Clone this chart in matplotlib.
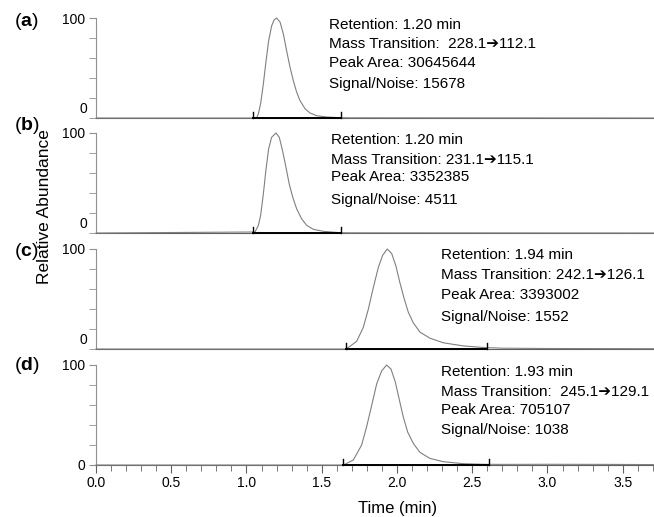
import matplotlib
matplotlib.use("Agg")
import matplotlib.pyplot as plt
from matplotlib.ticker import MultipleLocator

plt.rcParams['font.family'] = ['Liberation Sans', 'DejaVu Sans']
plt.rcParams['mathtext.fontset'] = 'custom'
plt.rcParams['mathtext.rm'] = 'Liberation Sans'
plt.rcParams['mathtext.bf'] = 'Liberation Sans:bold'

# chromatogram traces (time in min, relative abundance %)
time_a = [0.0, 1.0675, 1.079, 1.094, 1.112, 1.130, 1.147, 1.167, 1.183, 1.200, 1.223, 1.245,
          1.267, 1.289, 1.311, 1.333, 1.355, 1.389, 1.422, 1.466, 1.533, 1.621, 1.70, 3.71]
abund_a = [0, 0, 4.3, 14.3, 34, 57, 77, 92, 98, 100, 96, 84,
           67, 51, 37.5, 26, 17.6, 9.3, 5, 2.3, 1, 0.3, 0.2, 0]

time_b = [0.0, 1.0565, 1.079, 1.094, 1.112, 1.130, 1.147, 1.167, 1.196, 1.218, 1.240, 1.262,
          1.284, 1.307, 1.333, 1.366, 1.400, 1.444, 1.510, 1.621, 1.70, 3.71]
abund_b = [0, 1.0, 7.6, 17.6, 39, 64, 84, 95.7, 100, 95.7, 82, 66,
           49, 36, 24.3, 14.3, 7.6, 3.7, 1.7, 0.3, 0.2, 0]

time_c = [0.0, 1.659, 1.677, 1.732, 1.776, 1.810, 1.843, 1.876, 1.905, 1.936, 1.965, 1.993,
          2.020, 2.047, 2.075, 2.109, 2.153, 2.219, 2.308, 2.441, 2.574, 2.70, 3.0, 3.71]
abund_c = [0, 0, 1.5, 7.7, 21.5, 40, 61.5, 81.5, 93.8, 100, 95.4, 83,
           66, 50.8, 36.9, 26, 16.9, 10.8, 6.2, 3.1, 1.5, 0.8, 0.5, 0.3]

time_d = [0.0, 1.639, 1.654, 1.710, 1.765, 1.798, 1.832, 1.865, 1.898, 1.931, 1.960, 1.989,
          2.016, 2.042, 2.071, 2.109, 2.153, 2.219, 2.308, 2.441, 2.574, 2.70, 3.0, 3.4, 3.71]
abund_d = [0, 0, 0.7, 5, 19.9, 38, 59.6, 81, 94, 100, 96, 83,
           65, 48, 33, 21.5, 12.6, 6.6, 3.3, 1.3, 0.7, 0.6, 0.7, 0.6, 0.4]

# integration window (start, end) in min
peak_start = [1.04, 1.04, 1.66, 1.64]
peak_end = [1.63, 1.63, 2.60, 2.61]

panel_ids = ['a', 'b', 'c', 'd']
retention = ['1.20', '1.20', '1.94', '1.93']
transition = [' 228.1\u2794112.1', '231.1\u2794115.1', '242.1\u2794126.1', ' 245.1\u2794129.1']
peak_area = ['30645644', '3352385', '3393002', '705107']
sig_noise = ['15678', '4511', '1552', '1038']

times = [time_a, time_b, time_c, time_d]
abunds = [abund_a, abund_b, abund_c, abund_d]

W, H = 654, 517
fig = plt.figure(figsize=(W / 100, H / 100), dpi=100)

# pixel positions of the 0 line for each panel (100 line sits 100 px above)
base_px = [118, 233, 349, 465]
text_x = [329, 331, 441, 441]
text_y = [[25, 44, 63, 84], [140, 160, 177, 200], [255, 275, 295, 317], [372, 392, 410, 430]]
label_y = [22, 125, 251, 366]

x0_px = 96
xmax = 3.708

for i in range(4):
    ax = fig.add_axes([x0_px / W, (H - base_px[i]) / H, (W - x0_px) / W, 100 / H])
    ax.plot(times[i], abunds[i], color='#808080', lw=0.8, clip_on=False, zorder=3)
    # integration baseline + end markers
    ax.plot([peak_start[i], peak_end[i]], [0, 0], color='black', lw=1.4, zorder=4, clip_on=False)
    for t in (peak_start[i], peak_end[i]):
        ax.plot([t, t], [0, 6], color='black', lw=1.0, zorder=4, clip_on=False)

    ax.set_xlim(0, xmax)
    ax.set_ylim(0, 100)
    for s in ('top', 'right'):
        ax.spines[s].set_visible(False)
    ax.spines['left'].set_color('#909090')
    ax.spines['bottom'].set_color('#606060')

    ax.yaxis.set_minor_locator(MultipleLocator(20))
    ax.tick_params(axis='y', which='both', length=5, color='#909090', labelsize=10, pad=3)
    if i < 3:
        ax.set_yticks([100])
        ax.set_yticklabels(['100'])
        ax.text(-0.016, 0.02, '0', transform=ax.transAxes, ha='right', va='bottom', fontsize=10)
        ax.set_xticks([])
    else:
        ax.set_yticks([0, 100])
        ax.set_yticklabels(['0', '100'])
        ax.xaxis.set_major_locator(MultipleLocator(0.5))
        ax.xaxis.set_minor_locator(MultipleLocator(0.1))
        ax.xaxis.set_major_formatter(matplotlib.ticker.FormatStrFormatter('%.1f'))
        ax.tick_params(axis='x', which='major', length=6, color='#606060', labelsize=10, pad=2)
        ax.tick_params(axis='x', which='minor', length=4, color='#606060')

    lines = ['Retention: %s min' % retention[i],
             'Mass Transition: %s' % transition[i],
             'Peak Area: %s' % peak_area[i],
             'Signal/Noise: %s' % sig_noise[i]]
    for ln, ty in zip(lines, text_y[i]):
        fig.text(text_x[i] / W, (H - ty) / H, ln, ha='left', va='center', fontsize=11)

    fig.text(14 / W, (H - label_y[i]) / H, '(' + r'$\mathbf{%s}$' % panel_ids[i] + ')',
             ha='left', va='center', fontsize=14)

fig.text(45 / W, (H - 207) / H, 'Relative Abundance', rotation=90, ha='center', va='center', fontsize=12.5)
fig.text(398 / W, (H - 508) / H, 'Time (min)', ha='center', va='center', fontsize=12)

fig.savefig('out.png', dpi=100)
